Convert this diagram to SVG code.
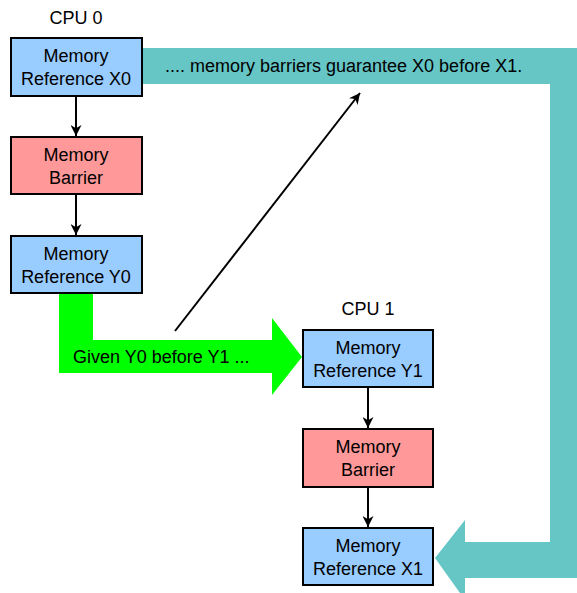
<svg xmlns="http://www.w3.org/2000/svg" width="577" height="593" viewBox="0 0 577 593">
<style>
text{font-family:"Liberation Sans",Arial,sans-serif;font-size:18px;fill:#000}
.c{text-anchor:middle}
.blue{fill:#99ccff;stroke:#000;stroke-width:2}
.red{fill:#ff9999;stroke:#000;stroke-width:2}
.ln{stroke:#000;stroke-width:2;fill:none;marker-end:url(#ah)}
</style>
<defs>
<marker id="ah" viewBox="0 0 10 10" refX="10" refY="5" markerWidth="11" markerHeight="11" markerUnits="userSpaceOnUse" orient="auto">
<path d="M0,0 L10,5 L0,10 L3,5 Z" fill="#000"/>
</marker>
</defs>
<g id="bands">
<path d="M142,48 H577 V578 H465 V600 L435,558 L465,520 V542 H550 V84 H142 Z" fill="#66c6c6"/>
<text x="165" y="72">.... memory barriers guarantee X0 before X1.</text>
<path d="M59,293 H93 V340 H272 V318 L302,357 L272,395 V373 H59 Z" fill="#00ff00"/>
<text x="73" y="363">Given Y0 before Y1 ...</text>
</g>
<g id="labels">
<text class="c" x="76" y="24">CPU 0</text>
<text class="c" x="368" y="315">CPU 1</text>
</g>
<g id="connectors">
<line class="ln" x1="76" y1="96" x2="76" y2="136"/>
<line class="ln" x1="76" y1="194" x2="76" y2="235"/>
<line class="ln" x1="368" y1="387" x2="368" y2="428"/>
<line class="ln" x1="368" y1="487" x2="368" y2="527"/>
<line class="ln" x1="175" y1="331" x2="360" y2="93"/>
</g>
<g id="x0"><rect class="blue" x="11" y="38" width="131" height="58"/><text class="c" x="76" y="62">Memory</text><text class="c" x="76" y="85">Reference X0</text></g>
<g id="b0"><rect class="red" x="11" y="137" width="131" height="57"/><text class="c" x="76" y="161">Memory</text><text class="c" x="76" y="184">Barrier</text></g>
<g id="y0"><rect class="blue" x="11" y="236" width="131" height="57"/><text class="c" x="76" y="260">Memory</text><text class="c" x="76" y="283">Reference Y0</text></g>
<g id="y1"><rect class="blue" x="303" y="330" width="130" height="57"/><text class="c" x="368" y="354">Memory</text><text class="c" x="368" y="377">Reference Y1</text></g>
<g id="b1"><rect class="red" x="303" y="429" width="130" height="58"/><text class="c" x="368" y="453">Memory</text><text class="c" x="368" y="476">Barrier</text></g>
<g id="x1"><rect class="blue" x="303" y="528" width="130" height="57"/><text class="c" x="368" y="552">Memory</text><text class="c" x="368" y="575">Reference X1</text></g>
</svg>
